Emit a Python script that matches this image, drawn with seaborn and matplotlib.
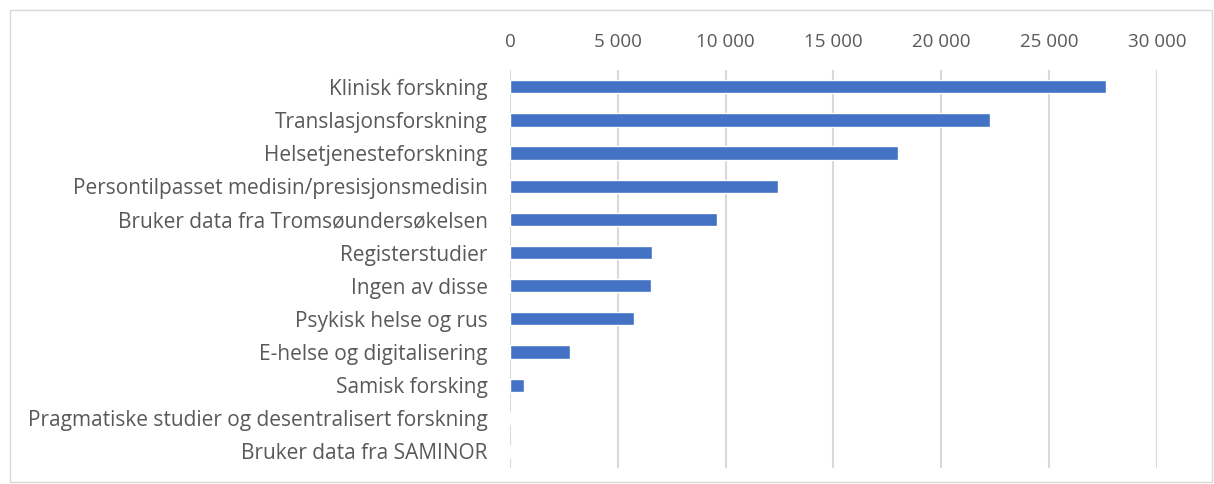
import matplotlib
matplotlib.use("Agg")
import matplotlib.pyplot as plt
import matplotlib.patches as patches
from matplotlib.ticker import FuncFormatter
import seaborn as sns
import pandas as pd

# Data
kategorier = [
    'Klinisk forskning',
    'Translasjonsforskning',
    'Helsetjenesteforskning',
    'Persontilpasset medisin/presisjonsmedisin',
    'Bruker data fra Tromsøundersøkelsen',
    'Registerstudier',
    'Ingen av disse',
    'Psykisk helse og rus',
    'E-helse og digitalisering',
    'Samisk forsking',
    'Pragmatiske studier og desentralisert forskning',
    'Bruker data fra SAMINOR',
]
verdier = [27650, 22250, 18000, 12420, 9590, 6580, 6540, 5760, 2790, 640, 0, 0]
x_ticks = [0, 5000, 10000, 15000, 20000, 25000, 30000]

df = pd.DataFrame({'kategori': kategorier, 'verdi': verdier})

sns.set_theme(style='white')
plt.rcParams['font.family'] = ['Open Sans', 'DejaVu Sans']

fig = plt.figure(figsize=(12.14, 4.84), dpi=100)
ax = fig.add_axes([0.420, 0.033, 0.533, 0.822])

sns.barplot(data=df, x='verdi', y='kategori', orient='h', color='#4472C4',
            saturation=1, width=0.4, ax=ax)

ax.set_xlim(0, 30000)
ax.set_ylim(11.5, -0.5)
ax.set_xticks(x_ticks)
ax.xaxis.set_major_formatter(FuncFormatter(lambda v, p: f'{int(v):,}'.replace(',', ' ')))
ax.xaxis.tick_top()
ax.grid(axis='x', color='#d9d9d9', linewidth=1.5)
ax.set_axisbelow(True)
for s in ax.spines.values():
    s.set_visible(False)
ax.tick_params(axis='x', length=0, pad=14, labelsize=13.5, labelcolor='#595959')
ax.tick_params(axis='y', length=0, pad=16, labelsize=15, labelcolor='#595959')
ax.set_xlabel('')
ax.set_ylabel('')

# outer chart border
fig.patches.append(patches.Rectangle((10 / 1214, 2 / 484), 1202 / 1214, 472 / 484,
                                     transform=fig.transFigure, fill=False,
                                     edgecolor='#d9d9d9', linewidth=1))

fig.savefig('out.png', dpi=100)
